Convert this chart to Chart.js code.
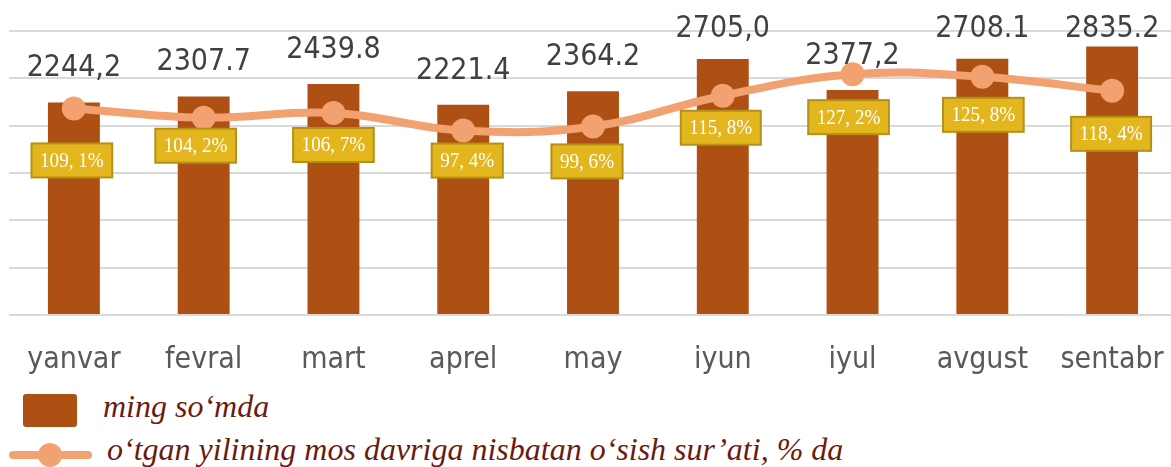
<!DOCTYPE html>
<html>
<head>
<meta charset="utf-8">
<script src="https://cdn.jsdelivr.net/npm/chart.js@4.4.1/dist/chart.umd.min.js"></script>
<style>
  html, body { margin: 0; padding: 0; background: #fff; overflow: hidden; }
  #wrap { position: relative; width: 1171px; height: 467px; overflow: hidden; }
  #salesChart { position: absolute; left: 0; top: 0; }
  .legend-text {
    position: absolute;
    font-family: "Liberation Serif", serif;
    font-style: italic;
    font-size: 32px;
    color: #6b1b10;
    white-space: nowrap;
    line-height: 1;
  }
  #swatchBar {
    position: absolute; left: 23px; top: 394px; width: 54px; height: 33px;
    background: #ae4f13; border-radius: 3px;
  }
  #swatchLine {
    position: absolute; left: 9px; top: 451px; width: 83px; height: 8px;
    background: #f2a170; border-radius: 4px;
  }
  #swatchDot {
    position: absolute; left: 38px; top: 443px; width: 24px; height: 24px;
    background: #f2a170; border-radius: 50%;
  }
</style>
</head>
<body>
<div id="wrap">
  <canvas id="salesChart" width="1180" height="385"></canvas>
  <div id="swatchBar"></div>
  <div class="legend-text" style="left:103px; top:390px;">ming so‘mda</div>
  <div id="swatchLine"></div>
  <div id="swatchDot"></div>
  <div class="legend-text" style="left:107px; top:433px;">o‘tgan yilining mos davriga nisbatan o‘sish sur’ati, % da</div>
</div>

<script>
// Monthly figures
const months = ['yanvar', 'fevral', 'mart', 'aprel', 'may', 'iyun', 'iyul', 'avgust', 'sentabr'];
const amounts = [2244.2, 2307.7, 2439.8, 2221.4, 2364.2, 2705.0, 2377.2, 2708.1, 2835.2];
const amountSeparators = [',', '.', '.', '.', '.', ',', ',', '.', '.'];
const growthPct = [109.1, 104.2, 106.7, 97.4, 99.6, 115.8, 127.2, 125.8, 118.4];

// Hand-placed offsets of the yellow percentage boxes (relative to each point)
const pctBoxDx = [-2, -8, 0, 4, -6, -2, -4, 1, -1];
const pctBoxDy = [52, 28, 32, 30, 35, 32, 43, 38, 43];

const barColor = '#ae4f13';
const lineColor = '#f2a170';
const gridColor = '#d9d9d9';

function amountLabel(i) {
    return amounts[i].toFixed(1).replace('.', amountSeparators[i]);
}

function pctLabel(v) {
    return v.toFixed(1).replace('.', ', ') + '%';
}

// Value labels above the bars and the boxed percentages under the line points
const valueLabels = {
    id: 'valueLabels',
    afterDatasetsDraw(chart) {
        const ctx = chart.ctx;
        const barMeta = chart.getDatasetMeta(1);
        const lineMeta = chart.getDatasetMeta(0);

        ctx.save();
        ctx.font = '30px "DejaVu Sans Condensed", "DejaVu Sans", sans-serif';
        ctx.fillStyle = '#404040';
        ctx.textAlign = 'center';
        ctx.textBaseline = 'middle';
        barMeta.data.forEach((bar, i) => {
            const y = Math.max(bar.y - 34, 29);
            ctx.fillText(amountLabel(i), bar.x, y);
        });

        // narrow serif look for the percentages
        const squeeze = 0.91;
        ctx.font = '21px "Liberation Serif", serif';
        lineMeta.data.forEach((pt, i) => {
            const text = pctLabel(growthPct[i]);
            const w = ctx.measureText(text).width * squeeze + 17;
            const h = 34;
            const cx = pt.x + pctBoxDx[i];
            const cy = pt.y + pctBoxDy[i];
            ctx.fillStyle = '#e4b61e';
            ctx.fillRect(cx - w / 2, cy - h / 2, w, h);
            ctx.strokeStyle = '#b39017';
            ctx.lineWidth = 2;
            ctx.strokeRect(cx - w / 2, cy - h / 2, w, h);
            ctx.save();
            ctx.translate(cx, cy + 1);
            ctx.scale(squeeze, 1);
            ctx.fillStyle = '#ffffff';
            ctx.fillText(text, 0, 0);
            ctx.restore();
        });
        ctx.restore();
    }
};

const ctx = document.getElementById('salesChart').getContext('2d');
new Chart(ctx, {
    data: {
        labels: months,
        datasets: [{
            type: 'line',
            label: 'o‘tgan yilining mos davriga nisbatan o‘sish sur’ati, % da',
            data: growthPct,
            yAxisID: 'y1',
            borderColor: lineColor,
            backgroundColor: lineColor,
            borderWidth: 8,
            tension: 0.4,
            pointRadius: 12,
            pointHoverRadius: 12,
            pointBorderWidth: 0,
            pointBackgroundColor: lineColor,
            order: 0
        }, {
            type: 'bar',
            label: 'ming so‘mda',
            data: amounts,
            yAxisID: 'y',
            backgroundColor: barColor,
            categoryPercentage: 1,
            barPercentage: 0.4,
            order: 1
        }]
    },
    options: {
        responsive: false,
        animation: false,
        layout: {
            autoPadding: false,
            padding: { left: 9, right: 3, top: 31, bottom: 0 }
        },
        plugins: {
            legend: { display: false },
            tooltip: { enabled: false }
        },
        scales: {
            x: {
                grid: { display: false, drawTicks: false },
                border: { display: false },
                ticks: {
                    color: '#595959',
                    padding: 27,
                    font: { family: '"DejaVu Sans Condensed", "DejaVu Sans", sans-serif', size: 30 }
                },
                afterFit(scale) {
                    scale.height = 70;
                    // labels fit inside their categories, no side padding needed
                    scale.paddingLeft = 0;
                    scale.paddingRight = 0;
                }
            },
            y: {
                min: 0,
                max: 3000,
                ticks: { display: false, stepSize: 500 },
                grid: { color: gridColor, lineWidth: 2, drawTicks: false },
                border: { display: false },
                afterFit(scale) { scale.width = 0; }
            },
            y1: {
                display: false,
                min: 0,
                max: 150
            }
        }
    },
    plugins: [valueLabels]
});
</script>
</body>
</html>
